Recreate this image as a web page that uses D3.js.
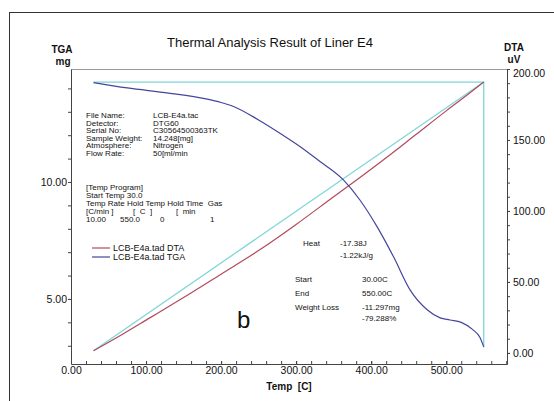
<!DOCTYPE html>
<html>
  <head>
    <meta charset="utf-8">
    <title>thermal analysis</title>
    <style>
      body { margin: 0; background: #fff; }
      text { font-family: "Liberation Sans", Arial, sans-serif; fill: #111; }
    </style>
  </head>
  <body>
    <div class="chart"></div>
    <script src="https://d3js.org/d3.v7.min.js"></script>
    <script>
        var w = 554, h = 401;

        // tick labels
        var tempTicks = [0, 100, 200, 300, 400, 500];
        var tgaTicks = [5, 10];
        var dtaTicks = [0, 50, 100, 150, 200];

        // TGA curve (temp C, mass mg)
        var tgaTemp = [30, 75, 130, 180, 200, 215, 250, 280, 305, 330, 363, 385, 408, 430, 452, 475, 492, 505, 520, 535, 545, 550];
        var tgaMass = [14.25, 14.02, 13.80, 13.55, 13.40, 13.25, 12.65, 12.05, 11.52, 10.92, 10.09, 9.23, 8.08, 6.79, 5.38, 4.53, 4.19, 4.10, 4.00, 3.70, 3.35, 2.95];

        // DTA curve (temp C, uV)
        var dtaTemp = [30, 60, 105, 150, 200, 252, 300, 350, 381, 420, 460, 500, 530, 550];
        var dtaVal = [1.5, 10.5, 24.7, 39, 55.5, 72.8, 90.5, 110, 122, 137.5, 154, 170.5, 182.5, 190.8];

        // temperature program (cyan)
        var progTemp = [30, 550];
        var progVal = [1.5, 190.8];
        var holdTemp = [30, 550, 550];
        var holdVal = [190.8, 190.8, 4];

        var infoLabels = ["File Name:", "Detector:", "Serial No:", "Sample Weight:", "Atmosphere:", "Flow Rate:"];
        var infoValues = ["LCB-E4a.tac", "DTG60", "C30564500363TK", "14.248[mg]", "Nitrogen", "50[ml/min"];
        var resLabels = ["Start", "End", "Weight Loss", ""];
        var resValues = ["30.00C", "550.00C", "-11.297mg", "-79.288%"];

        var x = d3.scaleLinear().domain([0, 581]).range([71, 507]);
        var yL = d3.scaleLinear().domain([2.22, 14.83]).range([364, 69]);
        var yR = d3.scaleLinear().domain([-7.8, 200]).range([364, 69]);

        var svg = d3.select(".chart")
        	.append("svg")
        	.attr("width", w)
        	.attr("height", h);

        svg.append("rect").attr("width", w).attr("height", h).attr("fill", "#fff");

        // outer frame
        svg.append("rect")
        	.attr("x", 9.5).attr("y", 12.5)
        	.attr("width", 700).attr("height", 500)
        	.attr("fill", "none").attr("stroke", "#333").attr("stroke-width", 1);

        svg.append("text")
        	.attr("x", 270).attr("y", 47)
        	.attr("text-anchor", "middle")
        	.style("font-size", "13px")
        	.text("Thermal Analysis Result of Liner E4");

        // plot box top
        svg.append("line").attr("x1", 71).attr("x2", 507).attr("y1", 69.5).attr("y2", 69.5)
        	.attr("stroke", "#999");

        function styleAxis(g) {
        	g.selectAll("path").attr("stroke", "#444");
        	g.selectAll("line").attr("stroke", "#444");
        	g.selectAll("text").style("font-size", "10.5px").attr("fill", "#111").style("font-family", "Liberation Sans, Arial, sans-serif");
        }

        var fmt = d3.format(".2f");

        // left TGA axis
        svg.append("g").attr("transform", "translate(71,0)")
        	.call(d3.axisLeft(yL).tickValues(d3.range(3, 15)).tickSize(3).tickSizeOuter(0).tickFormat(""))
        	.call(styleAxis);
        svg.append("g").attr("transform", "translate(71,0)")
        	.call(d3.axisLeft(yL).tickValues(tgaTicks).tickSize(3).tickPadding(1).tickFormat(fmt))
        	.call(styleAxis)
        	.call(function(g) { g.select(".domain").remove(); });

        // right DTA axis
        svg.append("g").attr("transform", "translate(507,0)")
        	.call(d3.axisRight(yR).tickValues(d3.range(0, 201, 10)).tickSize(3).tickSizeOuter(0).tickFormat(""))
        	.call(styleAxis);
        svg.append("g").attr("transform", "translate(507,0)")
        	.call(d3.axisRight(yR).tickValues(dtaTicks).tickSize(3).tickPadding(3).tickFormat(fmt))
        	.call(styleAxis)
        	.call(function(g) {
        		g.select(".domain").remove();
        		// top label sits just under the corner
        		g.selectAll(".tick text").attr("dy", function(d) { return d === 200 ? "0.75em" : "0.32em"; });
        	});

        // bottom temp axis
        svg.append("g").attr("transform", "translate(0,364)")
        	.call(d3.axisBottom(x).tickValues(d3.range(0, 581, 20)).tickSizeInner(-3).tickSizeOuter(0).tickFormat(""))
        	.call(styleAxis);
        svg.append("g").attr("transform", "translate(0,364)")
        	.call(d3.axisBottom(x).tickValues(tempTicks).tickSizeInner(-3).tickPadding(3).tickFormat(fmt))
        	.call(styleAxis)
        	.call(function(g) { g.select(".domain").remove(); });

        // axis titles
        var titles = [["TGA", 62, 53], ["mg", 63, 65], ["DTA", 514, 51], ["uV", 514, 63], ["Temp  [C]", 289, 390]];
        titles.forEach(function(t) {
        	svg.append("text").attr("x", t[1]).attr("y", t[2]).attr("text-anchor", "middle")
        		.style("font-size", "10px").style("font-weight", "bold").style("white-space", "pre")
        		.text(t[0]);
        });

        var line = d3.line().curve(d3.curveMonotoneX);

        // cyan program
        svg.append("path")
        	.attr("d", d3.line()(progTemp.map(function(t, i) { return [x(t), yR(progVal[i])]; })))
        	.attr("fill", "none").attr("stroke", "#7fd6d9").attr("stroke-width", 1.3);
        svg.append("path")
        	.attr("d", d3.line()(holdTemp.map(function(t, i) { return [x(t), yR(holdVal[i])]; })))
        	.attr("fill", "none").attr("stroke", "#7fd6d9").attr("stroke-width", 1.3);

        // DTA
        svg.append("path")
        	.attr("d", line(dtaTemp.map(function(t, i) { return [x(t), yR(dtaVal[i])]; })))
        	.attr("fill", "none").attr("stroke", "#b24a5c").attr("stroke-width", 1.2);

        // TGA
        svg.append("path")
        	.attr("d", line(tgaTemp.map(function(t, i) { return [x(t), yL(tgaMass[i])]; })))
        	.attr("fill", "none").attr("stroke", "#45459c").attr("stroke-width", 1.2);

        // info block
        var small = "8px";
        infoLabels.forEach(function(l, i) {
        	svg.append("text").attr("x", 86).attr("y", 118 + i * 7.6).style("font-size", small).text(l);
        	svg.append("text").attr("x", 153).attr("y", 118 + i * 7.6).style("font-size", small).text(infoValues[i]);
        });

        var prog = ["[Temp Program]", "Start Temp 30.0", "Temp Rate Hold Temp Hold Time  Gas"];
        prog.forEach(function(l, i) {
        	svg.append("text").attr("x", 86).attr("y", 190 + i * 8).style("font-size", small)
        		.style("white-space", "pre").text(l);
        });
        var units = [["[C/min ]", 86], ["[  C  ]", 133], ["[  min", 176]];
        units.forEach(function(u) {
        	svg.append("text").attr("x", u[1]).attr("y", 214).style("font-size", small)
        		.style("white-space", "pre").text(u[0]);
        });
        var row = [["10.00", 86], ["550.0", 120], ["0", 160], ["1", 210]];
        row.forEach(function(u) {
        	svg.append("text").attr("x", u[1]).attr("y", 222).style("font-size", small).text(u[0]);
        });

        // legend
        var legend = [["LCB-E4a.tad DTA", "#b24a5c", 248], ["LCB-E4a.tad TGA", "#45459c", 257]];
        legend.forEach(function(l) {
        	svg.append("line").attr("x1", 92).attr("x2", 110).attr("y1", l[2]).attr("y2", l[2])
        		.attr("stroke", l[1]).attr("stroke-width", 1.2);
        	svg.append("text").attr("x", 113).attr("y", l[2] + 3).style("font-size", "9px").text(l[0]);
        });

        // heat block
        svg.append("text").attr("x", 303).attr("y", 246).style("font-size", small).text("Heat");
        svg.append("text").attr("x", 340).attr("y", 246).style("font-size", small).text("-17.38J");
        svg.append("text").attr("x", 340).attr("y", 258).style("font-size", small).text("-1.22kJ/g");

        var resY = [282, 296, 310, 321];
        resLabels.forEach(function(l, i) {
        	svg.append("text").attr("x", 295).attr("y", resY[i]).style("font-size", small).text(l);
        	svg.append("text").attr("x", 362).attr("y", resY[i]).style("font-size", small).text(resValues[i]);
        });

        svg.append("text").attr("x", 237).attr("y", 328)
        	.style("font-size", "24px").attr("fill", "#000")
        	.text("b");
    </script>
  </body>
</html>
